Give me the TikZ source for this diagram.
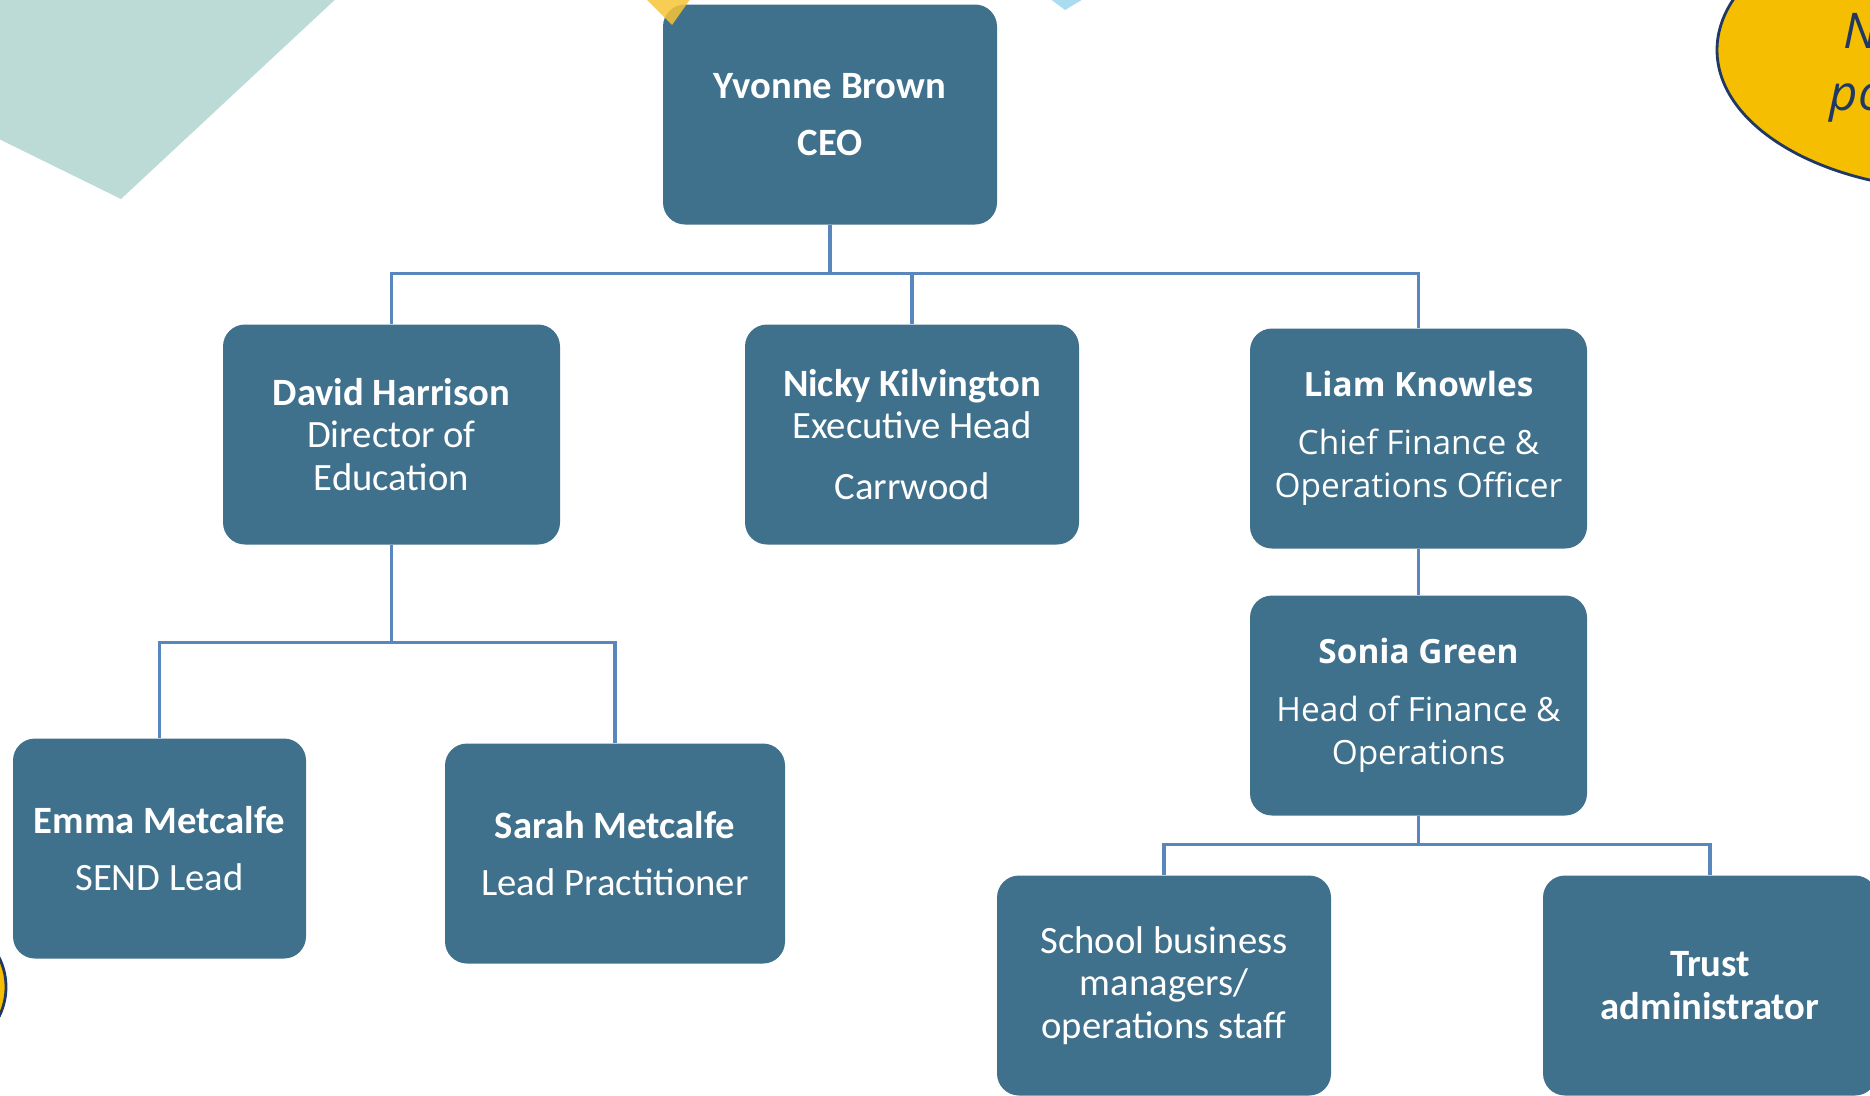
\documentclass[tikz,border=0pt]{standalone}
\usepackage{fontspec}
\setmainfont{Carlito}
\newfontfamily\opensans{Open Sans}
\usetikzlibrary{calc}

\definecolor{boxblue}{HTML}{40718C}
\definecolor{linkblue}{HTML}{5A86BE}
\definecolor{paleteal}{HTML}{BDDBD6}
\definecolor{sunyellow}{HTML}{F5BE00}
\definecolor{softyellow}{HTML}{F7C535}
\definecolor{inknavy}{HTML}{1F3864}
\definecolor{paleblue}{HTML}{A9DCF0}

\begin{document}
\begin{tikzpicture}[x=0.1mm,y=-0.1mm,
  person/.style={fill=boxblue,rounded corners=2.2mm,text=white,align=center,
    inner sep=0pt,minimum height=22mm,font=\fontsize{11}{12}\selectfont},
  finance/.style={person,font=\opensans\fontsize{9.5}{12.2}\selectfont},
  bubbletext/.style={anchor=base west,text=inknavy,inner sep=0pt,
    font=\opensans\itshape\fontsize{14}{16}\selectfont},
  link/.style={draw=linkblue,line width=0.9pt}]
\useasboundingbox (0,0) rectangle (1870,1095);
\fill[white] (0,0) rectangle (1870,1095);
\clip (0,0) rectangle (1870,1095);

\fill[paleteal] (-5,-5) -- (340,-5) -- (121,199) -- (-5,137) -- cycle;

\draw[fill=sunyellow,draw=inknavy,line width=0.8pt] (1960,50) ellipse [x radius=243, y radius=140];
\node[bubbletext] (bubbleA) at (1843,48) {N};
\node[bubbletext] (bubbleB) at (1829,110) {po};

\draw[fill=sunyellow,draw=inknavy,line width=0.8pt] (-60,987) circle (66);

\node[person,minimum width=33.4mm] (ceo) at (830,114.5) {\textbf{Yvonne Brown}\\[4.2pt]\textbf{CEO}};

\node[person,minimum width=33.7mm] (harrison) at (391.5,434.5) {\textbf{David Harrison}\\Director of\\Education};
\node[person,minimum width=33.4mm] (kilvington) at (912,434.5) {\textbf{Nicky Kilvington}\\Executive Head\\[5.3pt]Carrwood};
\node[finance,minimum width=33.7mm] (knowles) at (1418.5,438.5) {\textbf{Liam Knowles}\\[4.4pt]Chief Finance \&\\Operations Officer};
\node[finance,minimum width=33.7mm] (green) at (1418.5,705.5) {\textbf{Sonia Green}\\[4.4pt]Head of Finance \&\\Operations};

\node[person,minimum width=29.3mm] (emma) at (159.5,848.5) {\textbf{Emma Metcalfe}\\[4.2pt]SEND Lead};
\node[person,minimum width=34mm] (sarah) at (615,853.5) {\textbf{Sarah Metcalfe}\\[4.2pt]Lead Practitioner};

\node[person,minimum width=33.4mm] (sbm) at (1164,985.5) {School business\\managers/\\operations staff};
\node[person,minimum width=33.4mm] (trustadmin) at (1710,985.5) {\textbf{Trust}\\\textbf{administrator}};

\fill[softyellow,opacity=0.85] (645,-2) -- (691,-2) -- (672,25) -- cycle;
\fill[paleblue] (1049,-2) -- (1085,-2) -- (1065,10) -- cycle;

\coordinate (topbus) at ($(ceo.south)+(0,48.5)$);
\draw[link] (ceo.south) -- (topbus) -| (harrison.north);
\draw[link] (topbus) -| (kilvington.north);
\draw[link] (topbus) -| (knowles.north);

\coordinate (edubus) at ($(harrison.south)+(0,97)$);
\draw[link] (harrison.south) -- (edubus) -| (emma.north);
\draw[link] (edubus) -| (sarah.north);

\draw[link] (knowles.south) -- (green.north);

\coordinate (opsbus) at ($(green.south)+(0,28)$);
\draw[link] (green.south) -- (opsbus) -| (sbm.north);
\draw[link] (opsbus) -| (trustadmin.north);

\end{tikzpicture}
\end{document}
